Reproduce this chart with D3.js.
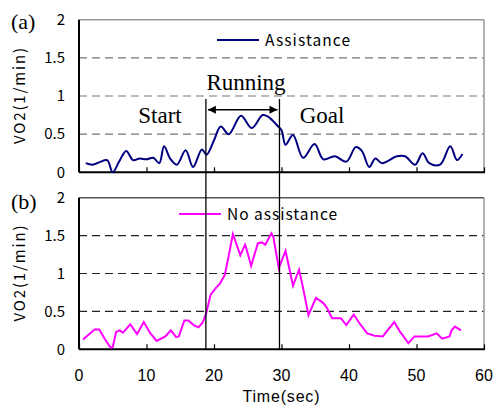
<!DOCTYPE html>
<html>
<head>
<meta charset="UTF-8">
<title>VO2 assistance</title>
<script src="https://d3js.org/d3.v7.min.js"></script>
<style>
  body { margin: 0; background: #fff; }
  svg { display: block; }
</style>
</head>
<body>
<div id="chart"></div>
<script>
// (a) with assistance
const timeA = [1.0, 2.0, 3.0, 4.0, 4.3, 5.0, 6.0, 7.0, 8.0, 9.0, 10.0, 11.0, 11.9, 12.6, 13.5, 14.5,
  15.8, 16.9, 18.2, 18.9, 20.0, 21.0, 22.2, 24.0, 25.6, 27.2, 28.0, 29.3, 30.0, 30.6, 31.7, 33.2,
  34.9, 36.2, 37.9, 39.6, 41.0, 41.9, 43.0, 43.9, 44.9, 47.1, 48.3, 49.8, 50.9, 51.9, 53.5, 55.0, 56.0, 56.8];
const vo2A = [0.12, 0.10, 0.13, 0.16, 0.15, 0.00, 0.15, 0.28, 0.16, 0.18, 0.17, 0.19, 0.12, 0.34, 0.18, 0.10,
  0.29, 0.07, 0.30, 0.23, 0.42, 0.60, 0.50, 0.74, 0.58, 0.75, 0.73, 0.62, 0.55, 0.36, 0.49, 0.19,
  0.37, 0.17, 0.21, 0.14, 0.33, 0.28, 0.07, 0.18, 0.12, 0.21, 0.21, 0.10, 0.25, 0.12, 0.10, 0.34, 0.16, 0.24];

// (b) without assistance
const timeB = [0.6, 1.5, 2.3, 3.0, 3.8, 4.7, 5.0, 5.5, 6.0, 6.5, 7.6, 8.6, 9.6, 10.5, 11.5, 12.8, 13.6,
  14.4, 14.8, 15.6, 16.2, 17.0, 17.7, 18.3, 18.8, 19.5, 20.2, 20.9, 21.6, 22.1, 22.8, 23.2, 23.9, 24.6,
  24.8, 25.5, 26.5, 27.1, 27.6, 28.5, 28.8, 29.6, 30.6, 31.7, 32.6, 33.1, 34.0, 35.1, 36.2, 36.7, 37.5,
  38.8, 39.6, 40.7, 41.5, 42.7, 43.8, 45.0, 46.7, 47.5, 48.8, 49.7, 51.7, 53.0, 53.8, 54.9, 55.2, 55.7, 56.6];
const vo2B = [0.13, 0.20, 0.26, 0.26, 0.14, 0.02, 0.03, 0.23, 0.25, 0.22, 0.33, 0.20, 0.36, 0.22, 0.11, 0.17, 0.25,
  0.16, 0.17, 0.38, 0.38, 0.32, 0.29, 0.35, 0.46, 0.72, 0.80, 0.87, 0.98, 1.20, 1.52, 1.42, 1.24, 1.38,
  1.33, 1.10, 1.40, 1.41, 1.38, 1.53, 1.48, 1.07, 1.30, 0.84, 1.05, 0.85, 0.45, 0.68, 0.61, 0.55, 0.41,
  0.41, 0.32, 0.46, 0.35, 0.21, 0.18, 0.17, 0.36, 0.24, 0.08, 0.17, 0.17, 0.21, 0.14, 0.17, 0.25, 0.30, 0.25];

const xTicks = [0, 10, 20, 30, 40, 50, 60];
const yTicks = [0, 0.5, 1, 1.5, 2];
const phaseTimes = [18.8, 29.7];   // start / goal markers

const W = 493, H = 407;
const sans = "'Noto Sans CJK JP', 'Liberation Sans', sans-serif";
const sansX = "'Liberation Sans', Arial, sans-serif";
const serif = "'Liberation Serif', 'Times New Roman', serif";

const svg = d3.select("#chart").append("svg")
  .attr("width", W).attr("height", H);

const x = d3.scaleLinear().domain([0, 60]).range([79, 484]);
const panels = [
  { tag: "(a)", tagY: 29, y: d3.scaleLinear().domain([0, 2]).range([172.3, 19.7]),
    t: timeA, v: vo2A, color: "#000080", curve: d3.curveCatmullRom.alpha(0.5),
    grid: "#777", topBorder: "#999", name: "Assistance", nameLen: 85, legY: 40, legX: 217 },
  { tag: "(b)", tagY: 209, y: d3.scaleLinear().domain([0, 2]).range([349.3, 197.7]),
    t: timeB, v: vo2B, color: "#ff00ff", curve: d3.curveLinear,
    grid: "#222", topBorder: "#555", name: "No assistance", nameLen: 110, legY: 214, legX: 179 }
];

panels.forEach((p, k) => {
  const g = svg.append("g");
  const [y0, y1] = p.y.range();

  // dashed gridlines
  g.selectAll("line.grid").data(yTicks.filter(d => d > 0 && d < 2)).join("line")
    .attr("x1", x(0)).attr("x2", x(60))
    .attr("y1", d => p.y(d)).attr("y2", d => p.y(d))
    .attr("stroke", p.grid).attr("stroke-width", 1.2)
    .attr("stroke-dasharray", "8,5");

  // frame: top and right in gray
  g.append("line").attr("x1", x(0)).attr("x2", x(60)).attr("y1", y1).attr("y2", y1)
    .attr("stroke", p.topBorder).attr("stroke-width", 1.5);
  g.append("line").attr("x1", x(60)).attr("x2", x(60)).attr("y1", y1).attr("y2", y0)
    .attr("stroke", "#999").attr("stroke-width", 1.5);

  // bottom axis with inward ticks
  const xAxis = d3.axisTop(x).tickValues(xTicks).tickSize(5).tickFormat("");
  const ax = g.append("g").attr("transform", `translate(0,${y0})`).call(xAxis);
  ax.select(".domain").remove();
  ax.selectAll(".tick line").attr("stroke", "#000").attr("stroke-width", 1.2);
  g.append("line").attr("x1", x(0)).attr("x2", x(60) + 1).attr("y1", y0).attr("y2", y0)
    .attr("stroke", "#000").attr("stroke-width", 2);

  // left axis
  const yAxis = d3.axisLeft(p.y).tickValues(yTicks).tickSize(0).tickPadding(14)
    .tickFormat(d => d3.format("")(d));
  const ay = g.append("g").attr("transform", `translate(${x(0)},0)`).call(yAxis);
  ay.select(".domain").remove();
  ay.selectAll("text").attr("font-family", sans).attr("font-size", 15).attr("fill", "#000");
  g.append("line").attr("x1", x(0)).attr("x2", x(0)).attr("y1", y1).attr("y2", y0)
    .attr("stroke", "#000").attr("stroke-width", 2);

  // y title
  g.append("text")
    .attr("transform", `translate(25,${(y0 + y1) / 2}) rotate(-90)`)
    .attr("text-anchor", "middle")
    .attr("font-family", sans).attr("font-size", 15)
    .attr("textLength", 96).attr("lengthAdjust", "spacing")
    .text("VO2(1/min)");

  // panel tag
  g.append("text").attr("x", 11).attr("y", p.tagY)
    .attr("font-family", serif).attr("font-size", 22).text(p.tag);

  // series
  const pts = p.t.map((t, i) => [t, p.v[i]]);
  g.append("path").datum(pts)
    .attr("fill", "none").attr("stroke", p.color).attr("stroke-width", 2)
    .attr("d", d3.line().x(d => x(d[0])).y(d => p.y(d[1])).curve(p.curve));

  // legend
  g.append("line").attr("x1", p.legX).attr("x2", p.legX + 42)
    .attr("y1", p.legY).attr("y2", p.legY)
    .attr("stroke", p.color).attr("stroke-width", 2);
  g.append("text").attr("x", p.legX + 48).attr("y", p.legY + 6)
    .attr("font-family", sans).attr("font-size", 15.5)
    .attr("textLength", p.nameLen).attr("lengthAdjust", "spacing")
    .text(p.name);
});

// bottom x tick labels + title
const yb = panels[1].y;
svg.selectAll("text.xlab").data(xTicks).join("text")
  .attr("class", "xlab")
  .attr("x", d => x(d)).attr("y", yb(0) + 32)
  .attr("text-anchor", "middle")
  .attr("font-family", sansX).attr("font-size", 16)
  .text(d => d);
svg.append("text").attr("x", 281).attr("y", 402)
  .attr("text-anchor", "middle").attr("font-family", sansX).attr("font-size", 16)
  .attr("textLength", 77).attr("lengthAdjust", "spacing")
  .text("Time(sec)");

// start / goal vertical markers spanning both panels
const ya = panels[0].y;
svg.selectAll("line.phase").data(phaseTimes).join("line")
  .attr("x1", d => x(d)).attr("x2", d => x(d))
  .attr("y1", ya(0.96)).attr("y2", yb(0))
  .attr("stroke", "#000").attr("stroke-width", 1.3);

// running arrow
const defs = svg.append("defs");
defs.append("marker").attr("id", "ah").attr("viewBox", "0 0 10 10")
  .attr("refX", 10).attr("refY", 5).attr("markerWidth", 11).attr("markerHeight", 8)
  .attr("markerUnits", "userSpaceOnUse").attr("orient", "auto-start-reverse")
  .append("path").attr("d", "M0,0L10,5L0,10Z").attr("fill", "#000");
const arrowY = ya(0.82);
svg.append("line")
  .attr("x1", x(phaseTimes[0]) + 2).attr("x2", x(phaseTimes[1]) - 2)
  .attr("y1", arrowY).attr("y2", arrowY)
  .attr("stroke", "#000").attr("stroke-width", 1.5)
  .attr("marker-start", "url(#ah)").attr("marker-end", "url(#ah)");

// phase labels
const phaseLabels = [
  { text: "Running", x: 246, y: 90 },
  { text: "Start", x: 160, y: 123 },
  { text: "Goal", x: 322, y: 123 }
];
svg.selectAll("text.phase").data(phaseLabels).join("text")
  .attr("x", d => d.x).attr("y", d => d.y)
  .attr("text-anchor", "middle")
  .attr("font-family", serif).attr("font-size", 23)
  .text(d => d.text);
</script>
</body>
</html>
